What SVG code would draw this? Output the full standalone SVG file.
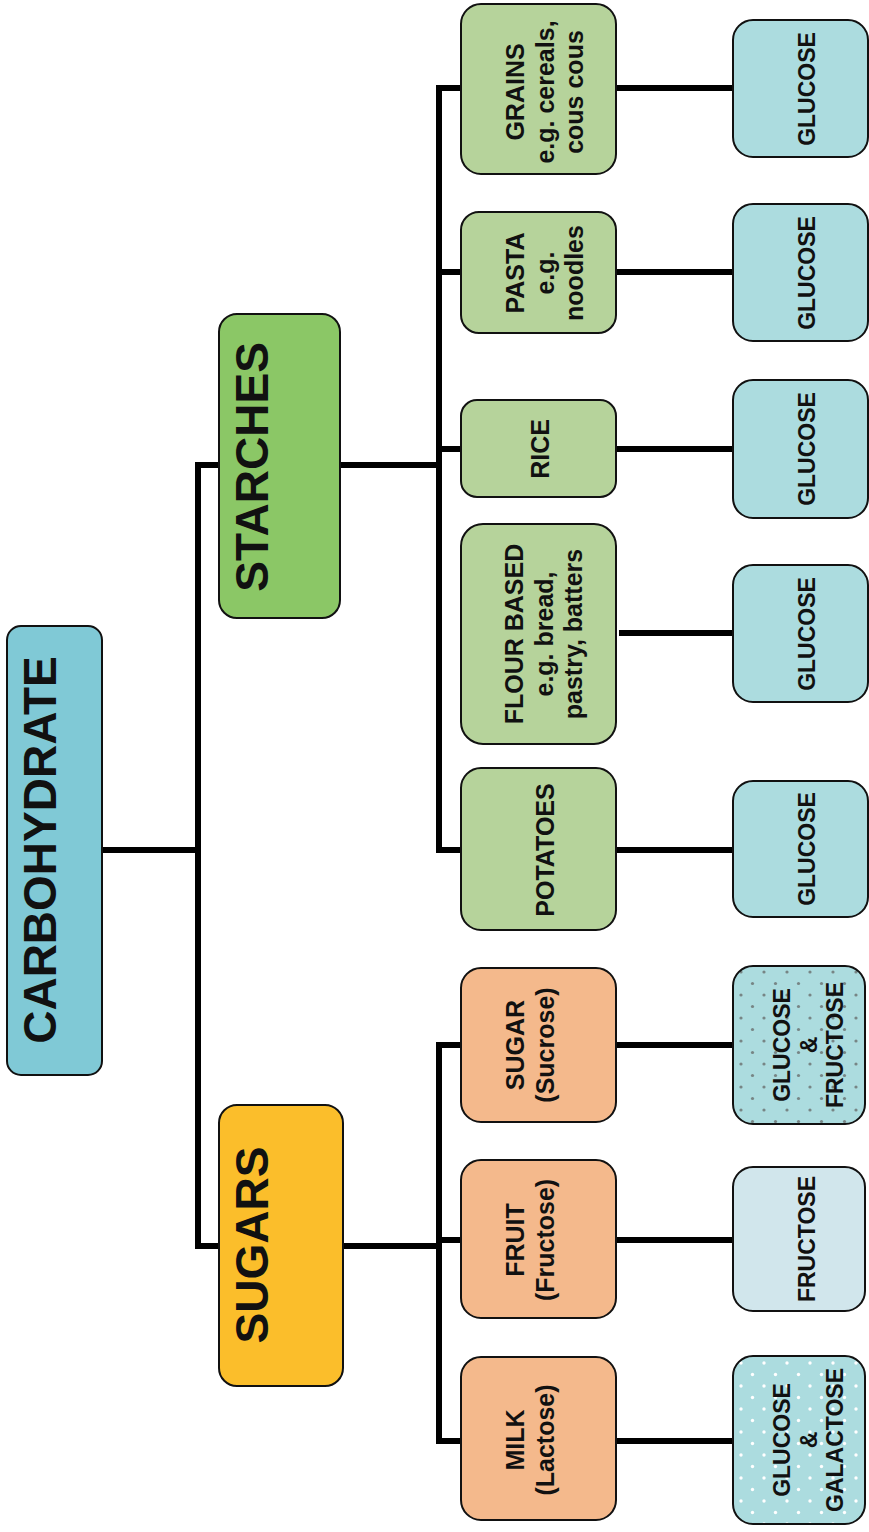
<svg xmlns="http://www.w3.org/2000/svg" width="869" height="1532" viewBox="0 0 869 1532">
<style>
.n{stroke:#111;stroke-width:2}
.t{font-family:"Liberation Sans",Arial,sans-serif;font-weight:bold;fill:#111;text-anchor:middle}
.big{font-size:46px}
.m{font-size:25px}
.s{font-size:23px}
.c{fill:none;stroke:#000;stroke-width:6;stroke-linejoin:miter;stroke-linecap:butt}
</style>
<defs>
<pattern id="dg" width="23" height="23" patternUnits="userSpaceOnUse" x="2" y="3">
<rect width="23" height="23" fill="#acdcdf"/>
<circle cx="3" cy="3" r="1.6" fill="#778585"/>
<circle cx="14.5" cy="14.5" r="1.6" fill="#778585"/>
</pattern>
<pattern id="dw" width="23" height="23" patternUnits="userSpaceOnUse" x="2" y="3">
<rect width="23" height="23" fill="#acdcdf"/>
<circle cx="3" cy="3" r="1.7" fill="#ffffff"/>
<circle cx="14.5" cy="14.5" r="1.7" fill="#ffffff"/>
</pattern>
</defs>
<rect width="869" height="1532" fill="#ffffff"/>
<g id="connectors">
<path class="c" d="M102 850H198M198 465V1246M195 465H219M195 1246H219"/>
<path class="c" d="M340 465H439M439 85V853M436 88H461M439 272H461M439 449H461M436 850H461"/>
<path class="c" d="M343 1246H439M439 1042V1444M436 1045H461M439 1240H461M436 1441H461"/>
<path class="c" d="M616 88H733M616 272H733M616 449H733M619 633H733M616 850H733M616 1045H733M616 1240H733M616 1441H733"/>
</g>
<g id="carbohydrate"><rect class="n" x="7" y="626" width="95" height="449" rx="14" fill="#80c9d6"/><text class="t big" transform="translate(56,850) rotate(-90)">CARBOHYDRATE</text></g>
<g id="starches"><rect class="n" x="219" y="314" width="121" height="304" rx="18" fill="#8bc766"/><text class="t big" transform="translate(268,467) rotate(-90)">STARCHES</text></g>
<g id="sugars"><rect class="n" x="219" y="1105" width="124" height="281" rx="18" fill="#fbbe2b"/><text class="t big" transform="translate(268,1245) rotate(-90)">SUGARS</text></g>
<g id="grains"><rect class="n" x="461" y="4" width="155" height="170" rx="20" fill="#b6d39b"/><text class="t m" transform="translate(524,92) rotate(-90)"><tspan x="0" y="0">GRAINS</tspan><tspan x="0" y="29.5">e.g. cereals,</tspan><tspan x="0" y="59">cous cous</tspan></text></g>
<g id="pasta"><rect class="n" x="461" y="212" width="155" height="121" rx="18" fill="#b6d39b"/><text class="t m" transform="translate(524,273) rotate(-90)"><tspan x="0" y="0">PASTA</tspan><tspan x="0" y="29.5">e.g.</tspan><tspan x="0" y="59">noodles</tspan></text></g>
<g id="rice"><rect class="n" x="461" y="400" width="155" height="97" rx="16" fill="#b6d39b"/><text class="t m" transform="translate(549,449) rotate(-90)">RICE</text></g>
<g id="flour"><rect class="n" x="461" y="524" width="155" height="220" rx="22" fill="#b6d39b"/><text class="t m" transform="translate(523,634) rotate(-90)"><tspan x="0" y="0">FLOUR BASED</tspan><tspan x="0" y="29.5">e.g. bread,</tspan><tspan x="0" y="59">pastry, batters</tspan></text></g>
<g id="potatoes"><rect class="n" x="461" y="768" width="155" height="162" rx="20" fill="#b6d39b"/><text class="t m" transform="translate(554,850) rotate(-90)">POTATOES</text></g>
<g id="sugar"><rect class="n" x="461" y="968" width="155" height="154" rx="20" fill="#f4b98c"/><text class="t m" transform="translate(524,1045) rotate(-90)"><tspan x="0" y="0">SUGAR</tspan><tspan x="0" y="30">(Sucrose)</tspan></text></g>
<g id="fruit"><rect class="n" x="461" y="1160" width="155" height="158" rx="20" fill="#f4b98c"/><text class="t m" transform="translate(524,1240) rotate(-90)"><tspan x="0" y="0">FRUIT</tspan><tspan x="0" y="30">(Fructose)</tspan></text></g>
<g id="milk"><rect class="n" x="461" y="1357" width="155" height="163" rx="20" fill="#f4b98c"/><text class="t m" transform="translate(524,1440) rotate(-90)"><tspan x="0" y="0">MILK</tspan><tspan x="0" y="30">(Lactose)</tspan></text></g>
<g id="glucose1"><rect class="n" x="733" y="20" width="135" height="137" rx="20" fill="#acdcdf"/><text class="t s" transform="translate(815,89) rotate(-90)">GLUCOSE</text></g>
<g id="glucose2"><rect class="n" x="733" y="204" width="135" height="137" rx="20" fill="#acdcdf"/><text class="t s" transform="translate(815,273) rotate(-90)">GLUCOSE</text></g>
<g id="glucose3"><rect class="n" x="733" y="380" width="135" height="138" rx="20" fill="#acdcdf"/><text class="t s" transform="translate(815,449) rotate(-90)">GLUCOSE</text></g>
<g id="glucose4"><rect class="n" x="733" y="565" width="135" height="137" rx="20" fill="#acdcdf"/><text class="t s" transform="translate(815,634) rotate(-90)">GLUCOSE</text></g>
<g id="glucose5"><rect class="n" x="733" y="781" width="135" height="136" rx="20" fill="#acdcdf"/><text class="t s" transform="translate(815,849) rotate(-90)">GLUCOSE</text></g>
<g id="glucose-fructose"><rect class="n" x="733" y="966" width="132" height="158" rx="20" fill="url(#dg)"/><text class="t s" transform="translate(790,1045) rotate(-90)"><tspan x="0" y="0">GLUCOSE</tspan><tspan x="0" y="26.5">&amp;</tspan><tspan x="0" y="53">FRUCTOSE</tspan></text></g>
<g id="fructose"><rect class="n" x="733" y="1167" width="132" height="144" rx="20" fill="#d1e6ec"/><text class="t s" transform="translate(815,1239) rotate(-90)">FRUCTOSE</text></g>
<g id="glucose-galactose"><rect class="n" x="733" y="1356" width="132" height="168" rx="20" fill="url(#dw)"/><text class="t s" transform="translate(790,1440) rotate(-90)"><tspan x="0" y="0">GLUCOSE</tspan><tspan x="0" y="26.5">&amp;</tspan><tspan x="0" y="53">GALACTOSE</tspan></text></g>
</svg>
